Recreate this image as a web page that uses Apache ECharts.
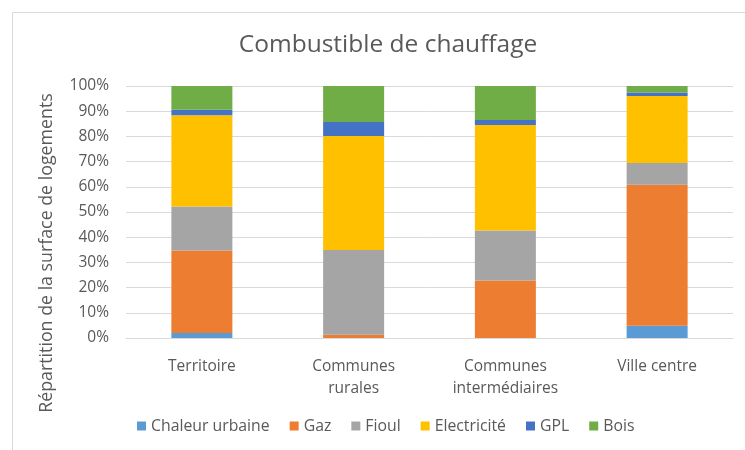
<!DOCTYPE html>
<html>
<head>
    <meta charset="utf-8">
    <title>Combustible de chauffage</title>
    <script src="https://cdn.jsdelivr.net/npm/echarts@6/dist/echarts.min.js"></script>
    <style>
        html, body { margin: 0; padding: 0; background: #fff; }
        #chart1 { width: 745px; height: 450px; }
    </style>
</head>
<body>
<div id="chart1"></div>
<script type="text/javascript">
    // données (en %)
    var categories = ['Territoire', 'Communes\nrurales', 'Communes\nintermédiaires', 'Ville centre'];
    var chaleurUrbaine = [2.0, 0, 0, 4.9];
    var gaz = [32.7, 1.3, 22.8, 55.9];
    var fioul = [17.5, 33.6, 19.9, 8.6];
    var electricite = [36.2, 45.3, 41.8, 26.6];
    var gpl = [2.2, 5.5, 2.0, 1.4];
    var bois = [9.4, 14.3, 13.5, 2.6];
    var yTicks = [0, 10, 20, 30, 40, 50, 60, 70, 80, 90, 100];

    var font = '"Open Sans", "DejaVu Sans", sans-serif';
    var txt = '#595959';

    function serie(name, data, color) {
        return {
            name: name,
            type: 'bar',
            stack: 'total',
            barWidth: 61,
            data: data,
            itemStyle: { color: color }
        };
    }

    var myChart1 = echarts.init(document.getElementById('chart1'));
    myChart1.setOption({
        animation: false,
        textStyle: { fontFamily: font },
        title: {
            text: 'Combustible de chauffage',
            left: 383,
            textAlign: 'center',
            top: 28,
            textStyle: { fontFamily: font, fontSize: 24.5, fontWeight: 'normal', color: txt }
        },
        graphic: [
            {
                type: 'rect',
                left: 10, top: 10,
                shape: { width: 760, height: 460 },
                style: { fill: 'none', stroke: '#d9d9d9', lineWidth: 1 },
                silent: true
            },
            {
                type: 'text',
                x: 47, y: 253,
                rotation: Math.PI / 2,
                style: {
                    text: 'Répartition de la surface de logements',
                    fontFamily: font, fontSize: 17.8, fill: txt,
                    align: 'center', verticalAlign: 'middle'
                }
            }
        ],
        legend: {
            bottom: 11,
            left: 132,
            itemWidth: 9,
            itemHeight: 9,
            itemGap: 20,
            icon: 'rect',
            textStyle: { fontFamily: font, fontSize: 15.8, color: txt, padding: [0, 0, 0, 0] },
            data: ['Chaleur urbaine', 'Gaz', 'Fioul', 'Electricité', 'GPL', 'Bois']
        },
        grid: { left: 126, right: 12, top: 86, bottom: 112 },
        xAxis: {
            type: 'category',
            data: categories,
            axisTick: { show: false },
            axisLine: { lineStyle: { color: '#d9d9d9' } },
            axisLabel: { fontFamily: font, fontSize: 15.5, color: txt, margin: 18, lineHeight: 22 }
        },
        yAxis: {
            type: 'value',
            min: yTicks[0],
            max: yTicks[yTicks.length - 1],
            interval: 10,
            axisLine: { show: false },
            axisTick: { show: false },
            splitLine: { lineStyle: { color: '#d9d9d9' } },
            axisLabel: { fontFamily: font, fontSize: 15.5, color: txt, margin: 17, formatter: '{value}%' }
        },
        series: [
            serie('Chaleur urbaine', chaleurUrbaine, '#5B9BD5'),
            serie('Gaz', gaz, '#ED7D31'),
            serie('Fioul', fioul, '#A5A5A5'),
            serie('Electricité', electricite, '#FFC000'),
            serie('GPL', gpl, '#4472C4'),
            serie('Bois', bois, '#70AD47')
        ]
    });
</script>
</body>
</html>
